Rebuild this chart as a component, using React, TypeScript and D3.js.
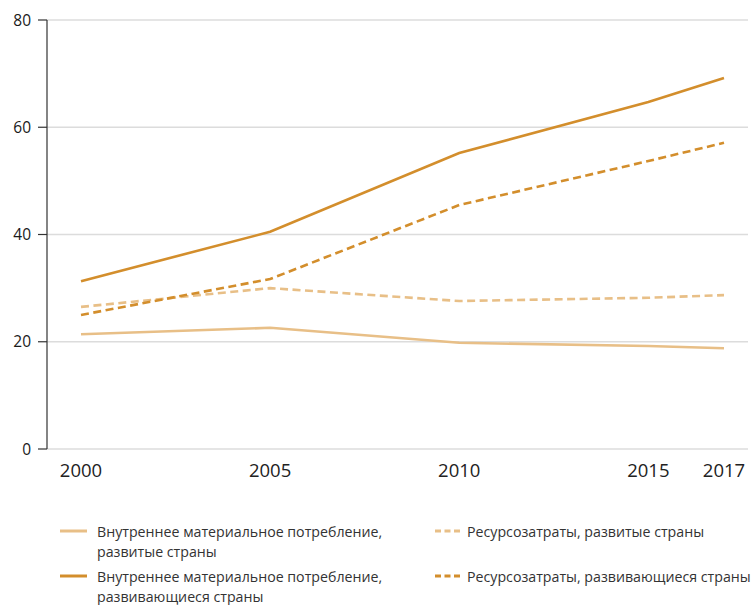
import React from "react";
import * as d3 from "d3";

const years = [2000, 2005, 2010, 2015, 2017];
const dmcDeveloped = [21.4, 22.6, 19.8, 19.2, 18.8];
const dmcDeveloping = [31.3, 40.5, 55.2, 64.7, 69.2];
const rmcDeveloped = [26.5, 30.0, 27.6, 28.2, 28.7];
const rmcDeveloping = [25.0, 31.7, 45.5, 53.7, 57.1];
const yTicks = [0, 20, 40, 60, 80];
const xTicks = [2000, 2005, 2010, 2015, 2017];

const LIGHT = "#e8bf87";
const DARK = "#d38e2c";

const series = [
  { values: dmcDeveloped, color: LIGHT, dashed: false },
  { values: rmcDeveloped, color: LIGHT, dashed: true },
  { values: rmcDeveloping, color: DARK, dashed: true },
  { values: dmcDeveloping, color: DARK, dashed: false },
];

const legendItems = [
  { lines: ["Внутреннее материальное потребление,", "развитые страны"], color: LIGHT, dashed: false, col: 0, row: 0 },
  { lines: ["Ресурсозатраты, развитые страны"], color: LIGHT, dashed: true, col: 1, row: 0 },
  { lines: ["Внутреннее материальное потребление,", "развивающиеся страны"], color: DARK, dashed: false, col: 0, row: 1 },
  { lines: ["Ресурсозатраты, развивающиеся страны"], color: DARK, dashed: true, col: 1, row: 1 },
];

export default function App() {
  const W = 754, H = 605;
  const x = d3.scaleLinear().domain([2000, 2017]).range([81, 724]);
  const y = d3.scaleLinear().domain([0, 80]).range([449, 20]);
  const line = d3.line<number>().x((_, i) => x(years[i])).y((v) => y(v));
  const font = "'Open Sans', sans-serif";

  return (
    <svg width={W} height={H} style={{ position: "absolute", left: 0, top: 0 }} fontFamily={font}>
      <rect width={W} height={H} fill="#fff" />
      {yTicks.map((t) => (
        <g key={t}>
          <line x1={47} x2={748} y1={y(t)} y2={y(t)} stroke="#dcdcdc" strokeWidth={1.5} />
          <line x1={38} x2={47} y1={y(t)} y2={y(t)} stroke="#333" strokeWidth={1.2} />
          <text x={31} y={y(t)} dy="0.36em" textAnchor="end" fontSize={15.5} fill="#1a1a1a">{t}</text>
        </g>
      ))}
      <line x1={47} x2={47} y1={y(80)} y2={y(0)} stroke="#333" strokeWidth={1.2} />
      {xTicks.map((t) => (
        <text key={t} x={x(t)} y={477} textAnchor="middle" fontSize={18.5} fill="#222">{t}</text>
      ))}
      {series.map((s, i) => (
        <path key={i} d={line(s.values) || ""} fill="none" stroke={s.color} strokeWidth={2.6}
          strokeDasharray={s.dashed ? "8,4.5" : undefined} />
      ))}
      {legendItems.map((it, i) => {
        const lx = it.col === 0 ? 60 : 435;
        const lw = it.col === 0 ? 27 : 25;
        const tx = it.col === 0 ? 97 : 467;
        const ly = it.row === 0 ? 531 : 576;
        return (
          <g key={i}>
            <line x1={lx} x2={lx + lw} y1={ly} y2={ly} stroke={it.color} strokeWidth={3}
              strokeDasharray={it.dashed ? "6,3.5" : undefined} />
            {it.lines.map((l, j) => (
              <text key={j} x={tx} y={ly + 6 + j * 19.5} fontSize={14.2} fill="#333">{l}</text>
            ))}
          </g>
        );
      })}
    </svg>
  );
}
